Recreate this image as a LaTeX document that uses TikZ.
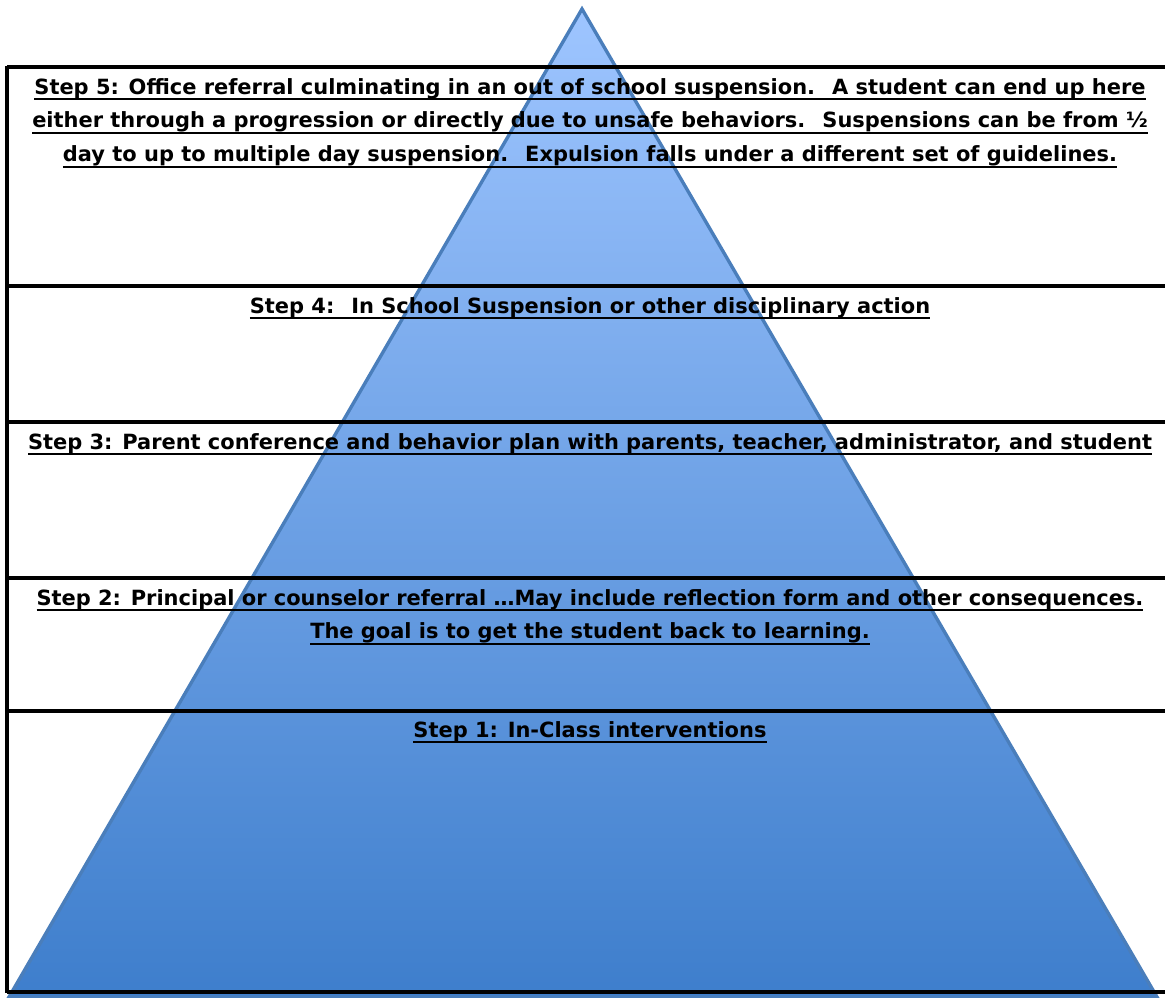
\documentclass[tikz,border=0pt]{standalone}
\usepackage{fontspec}
\setmainfont{DejaVu Sans}
\usepackage{xcolor}
\usepackage{tikz}
\usetikzlibrary{positioning}
\definecolor{pyrtop}{RGB}{158,197,255}
\definecolor{pyrbottom}{RGB}{62,126,204}
\definecolor{pyredge}{RGB}{74,126,187}
\tikzstyle{pyramid} = [draw=pyredge, line width=2.4pt, top color=pyrtop, bottom color=pyrbottom]
\tikzstyle{band} = [draw, line width=2.3pt]
\tikzstyle{steptext} = [align=center, anchor=north, inner sep=0pt, font=\bfseries\fontsize{14.9}{24}\selectfont]
% thick underline for the step texts
\newcommand{\ulstep}[1]{\leavevmode\setbox0\hbox{#1}\rlap{\rule[-4.3pt]{\wd0}{1.3pt}}\box0}

\begin{document}
\begin{tikzpicture}[x=0.025cm, y=-0.025cm]
\useasboundingbox (0, 0) rectangle (1165, 998);

%% pyramid behind the bands
\path[pyramid] (582, 9) -- (1157, 997) -- (9, 997) -- cycle;

%% band lines
\draw[band] (7, 67) -- (1165, 67);
\draw[band] (7, 286) -- (1165, 286);
\draw[band] (7, 422) -- (1165, 422);
\draw[band] (7, 578) -- (1165, 578);
\draw[band] (7, 711) -- (1165, 711);
\draw[band] (7, 992) -- (1165, 992);
\draw[band] (7, 66) -- (7, 993);

%% step labels
\node[steptext] at (590, 78) (step5) {%
\ulstep{Step 5: Office referral culminating in an out of school suspension.~ A student can end up here}\\
\ulstep{either through a progression or directly due to unsafe behaviors.~ Suspensions can be from ½}\\
\ulstep{day to up to multiple day suspension.~ Expulsion falls under a different set of guidelines.}};

\node[steptext] at (590, 297) (step4) {\ulstep{Step 4:~ In School Suspension or other disciplinary action}};

\node[steptext] at (590, 433) (step3) {\ulstep{Step 3: Parent conference and behavior plan with parents, teacher, administrator, and student}};

\node[steptext] at (590, 589) (step2) {%
\ulstep{Step 2: Principal or counselor referral …May include reflection form and other consequences.}\\
\ulstep{The goal is to get the student back to learning.}};

\node[steptext] at (590, 721) (step1) {\ulstep{Step 1: In-Class interventions}};

\end{tikzpicture}
\end{document}
